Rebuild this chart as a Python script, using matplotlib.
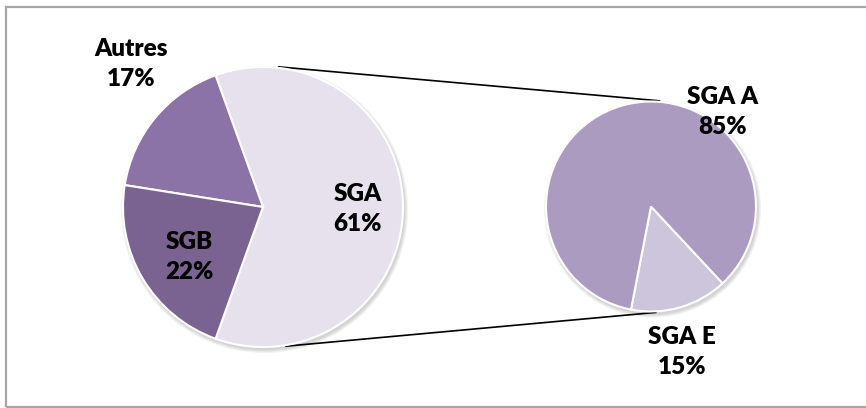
import matplotlib.pyplot as plt
import numpy as np
from matplotlib.patches import Rectangle, Circle

# main pie
main_labels = ['SGA', 'Autres', 'SGB']
main_values = [61, 17, 22]
main_colors = ['#E6E1EC', '#8B73A8', '#7A6390']

# breakdown of SGA
sub_labels = ['SGA E', 'SGA A']
sub_values = [15, 85]
sub_colors = ['#CDC5DC', '#AB9BC0']

W, H = 866, 408
fig = plt.figure(figsize=(W / 100, H / 100), dpi=100)
ax = fig.add_axes([0, 0, 1, 1])

c1, r1 = (263, 201), 140
c2, r2 = (651, 201.5), 105


def soft_shadow(center, r):
    for k in range(5):
        ax.add_patch(Circle((center[0] + 1.5, center[1] - 2.5), r + 0.5 + k * 0.8,
                            color='black', alpha=0.035, lw=0, zorder=1))


soft_shadow(c1, r1)
soft_shadow(c2, r2)

# SGA slice centred on the right side
start1 = -main_values[0] / 100 * 360 / 2
ax.pie(main_values, colors=main_colors, center=c1, radius=r1, startangle=start1,
       counterclock=True, wedgeprops=dict(edgecolor='white', linewidth=1.5, zorder=2),
       frame=True)
ax.pie(sub_values, colors=sub_colors, center=c2, radius=r2, startangle=-101,
       counterclock=True, wedgeprops=dict(edgecolor='white', linewidth=1.5, zorder=2),
       frame=True)
ax.set_xlim(0, W)
ax.set_ylim(0, H)
ax.set_aspect('equal')
ax.axis('off')


# connector lines between the two pies
def on_circle(center, r, deg):
    a = np.deg2rad(deg)
    return center[0] + r * np.cos(a), center[1] + r * np.sin(a)


for a1, a2 in [(84, 85), (-81, -87)]:
    p1 = on_circle(c1, r1 + 1, a1)
    p2 = on_circle(c2, r2 + 1, a2)
    ax.plot([p1[0], p2[0]], [p1[1], p2[1]], color='black', lw=1.2, zorder=0.5,
            solid_capstyle='butt')

font = dict(family=['Lato', 'DejaVu Sans'], fontsize=17.5, fontweight='heavy',
            ha='center', va='center', color='black', linespacing=1.43, zorder=5)
label_pos = {
    'SGA': (358, 199),
    'Autres': (131, 344),
    'SGB': (189, 151),
    'SGA A': (723, 296),
    'SGA E': (682, 56),
}
for lab, val in zip(main_labels, main_values):
    ax.text(*label_pos[lab], f'{lab}\n{val}%', **font)
for lab, val in zip(sub_labels, sub_values):
    ax.text(*label_pos[lab], f'{lab}\n{val}%', **font)

ax.add_patch(Rectangle((6, 1.3), 870, 400.2, fill=False, edgecolor='#A6A6A6',
                       lw=1.6, zorder=6, clip_on=False))

fig.savefig('out.png', dpi=100)
